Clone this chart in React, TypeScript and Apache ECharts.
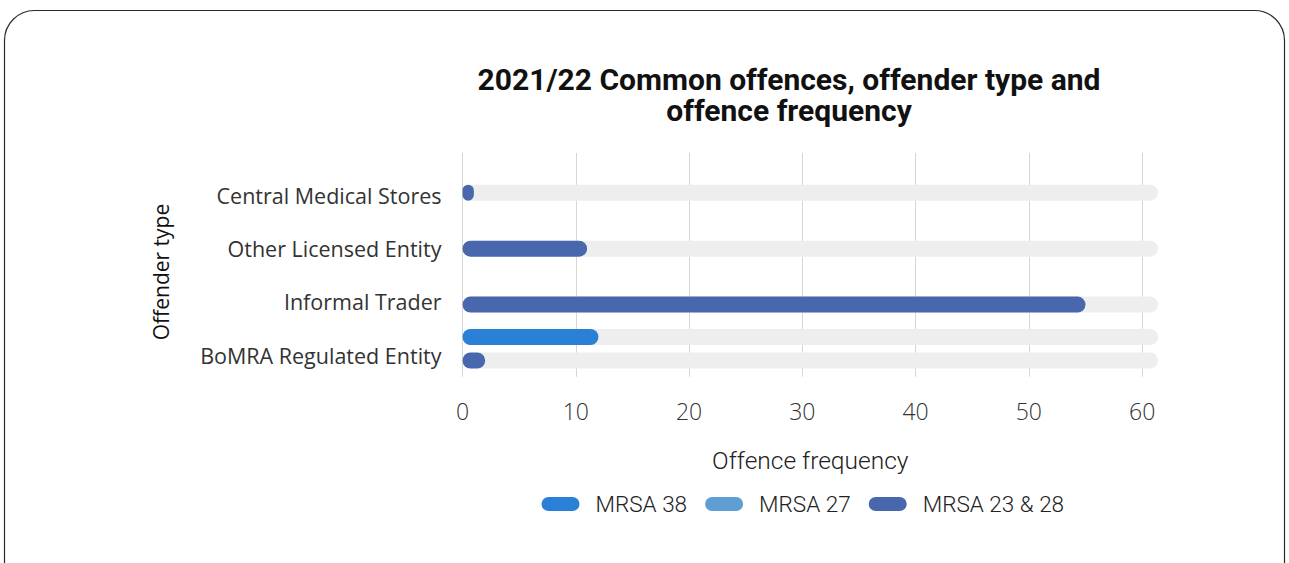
import React, { useEffect, useRef } from 'react';
import * as echarts from 'echarts';

const categories = ['Central Medical Stores', 'Other Licensed Entity', 'Informal Trader', 'BoMRA Regulated Entity'];
const seriesNames = ['MRSA 38', 'MRSA 27', 'MRSA 23 & 28'];
const mrsa38: (number | null)[] = [null, null, null, 12];
const mrsa27: (number | null)[] = [null, null, null, null];
const mrsa2328: (number | null)[] = [1, 11, 55, 2];
const xTicks = [0, 10, 20, 30, 40, 50, 60];
const xMax = 61.4;
const colors = ['#2A7FD6', '#5E9ED3', '#4867AD'];

const titleLines = ['2021/22 Common offences, offender type and', 'offence frequency'];
const xName = 'Offence frequency';
const yName = 'Offender type';

const toPairs = (vals: (number | null)[]) =>
  vals
    .map((v, i) => (v == null ? null : [v, categories[i]]))
    .filter((d) => d !== null);

export default function App() {
  const ref = useRef<HTMLDivElement>(null);
  useEffect(() => {
    if (!ref.current) return;
    const chart = echarts.init(ref.current, undefined, { renderer: 'svg' });
    const allValues = [mrsa38, mrsa27, mrsa2328];
    const gridLeft = 462.5;
    const gridWidth = 1158 - gridLeft;
    const splitColors = xTicks.map(() => '#D6D6D6').concat(['rgba(0,0,0,0)']);
    const titleStyle = {
      fontFamily: 'Roboto',
      fontWeight: 700,
      fontSize: 30,
      lineHeight: 30,
      color: '#111111',
    };
    const option: any = {
      animation: false,
      backgroundColor: '#ffffff',
      title: titleLines.map((t, i) => ({
        text: t,
        left: 789,
        top: 64.5 + i * 31,
        padding: 0,
        textAlign: 'center',
        textStyle: titleStyle,
      })),
      legend: {
        data: seriesNames,
        left: 541.5,
        top: 492,
        padding: 0,
        itemWidth: 38,
        itemHeight: 14,
        itemGap: 18,
        icon: 'path://M7,0 L31,0 A7,7 0 0 1 31,14 L7,14 A7,7 0 0 1 7,0 Z',
        textStyle: {
          fontFamily: 'Roboto',
          fontWeight: 300,
          fontSize: 22.5,
          lineHeight: 24,
          color: '#222222',
          padding: [0, 0, 0, 11],
        },
      },
      graphic: [
        {
          type: 'rect',
          z: -10,
          silent: true,
          shape: { x: 4.5, y: 10.5, width: 1280, height: 640, r: 30 },
          style: { fill: 'rgba(0,0,0,0)', stroke: '#2a2a2a', lineWidth: 1.2 },
        },
        {
          type: 'text',
          x: 161,
          y: 272,
          rotation: Math.PI / 2,
          silent: true,
          style: {
            text: yName,
            align: 'center',
            verticalAlign: 'middle',
            fontFamily: 'Open Sans',
            fontSize: 21,
            fill: '#111111',
          },
        },
      ],
      grid: [
        { left: gridLeft, top: 153, width: gridWidth, height: 223.7 },
        { left: gridLeft, top: 168.3, width: gridWidth, height: 213.7 },
      ],
      xAxis: [
        {
          type: 'value',
          gridIndex: 0,
          min: xTicks[0],
          max: xMax,
          interval: xTicks[1] - xTicks[0],
          name: xName,
          nameLocation: 'middle',
          nameGap: 71,
          nameTextStyle: {
            fontFamily: 'Roboto',
            fontWeight: 300,
            fontSize: 24.5,
            lineHeight: 26,
            color: '#222222',
          },
          axisLine: { show: false },
          axisTick: { show: false },
          axisLabel: {
            margin: 22,
            fontFamily: 'Open Sans',
            fontWeight: 300,
            fontSize: 23,
            lineHeight: 24,
            color: '#333333',
            formatter: (v: number) => (xTicks.includes(v) ? String(v) : ''),
          },
          splitLine: { show: true, lineStyle: { color: splitColors, width: 1 } },
        },
        {
          type: 'value',
          gridIndex: 1,
          show: false,
        },
      ],
      yAxis: [
        {
          type: 'category',
          gridIndex: 0,
          data: categories,
          inverse: true,
          axisLine: { show: false },
          axisTick: { show: false },
          axisLabel: { show: false },
          splitLine: { show: false },
        },
        {
          type: 'category',
          gridIndex: 1,
          data: categories,
          inverse: true,
          axisLine: { show: false },
          axisTick: { show: false },
          splitLine: { show: false },
          axisLabel: {
            margin: 21,
            fontFamily: 'Open Sans',
            fontSize: 21.5,
            color: '#333333',
          },
        },
      ],
      series: seriesNames.map((name, si) => ({
        name,
        type: 'bar',
        xAxisIndex: 0,
        yAxisIndex: 0,
        barWidth: 16,
        barGap: '-26.6%',
        data: toPairs(allValues[si]),
        itemStyle: { color: colors[si], borderRadius: 8 },
        showBackground: true,
        backgroundStyle: { color: '#EEEEEE', borderRadius: 8 },
      })),
    };
    chart.setOption(option);
    return () => chart.dispose();
  }, []);
  return <div ref={ref} style={{ position: 'absolute', left: 0, top: 0, width: 1289, height: 563 }} />;
}
